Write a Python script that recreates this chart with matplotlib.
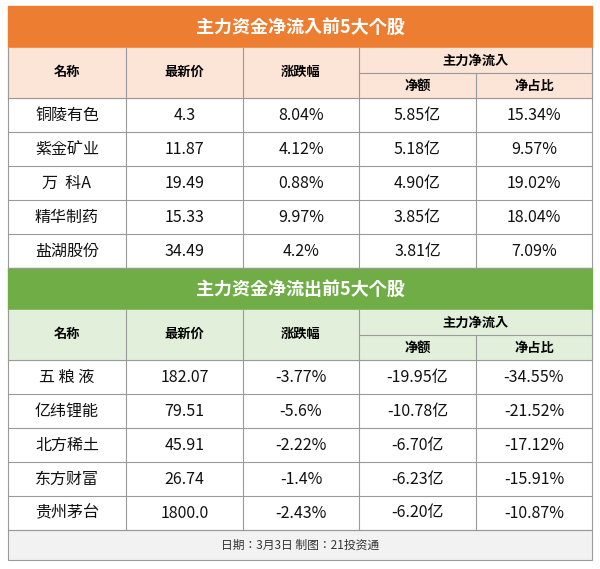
import matplotlib.pyplot as plt
from matplotlib.patches import Rectangle

plt.rcParams["font.family"] = ["Noto Sans CJK SC", "Noto Sans CJK JP",
                               "Noto Sans CJK TC", "Noto Sans CJK KR",
                               "DejaVu Sans"]

# data
in_title = "主力资金净流入前5大个股"
out_title = "主力资金净流出前5大个股"
in_names = ["铜陵有色", "紫金矿业", "万  科A", "精华制药", "盐湖股份"]
in_price = ["4.3", "11.87", "19.49", "15.33", "34.49"]
in_change = ["8.04%", "4.12%", "0.88%", "9.97%", "4.2%"]
in_amount = ["5.85亿", "5.18亿", "4.90亿", "3.85亿", "3.81亿"]
in_ratio = ["15.34%", "9.57%", "19.02%", "18.04%", "7.09%"]
out_names = ["五 粮 液", "亿纬锂能", "北方稀土", "东方财富", "贵州茅台"]
out_price = ["182.07", "79.51", "45.91", "26.74", "1800.0"]
out_change = ["-3.77%", "-5.6%", "-2.22%", "-1.4%", "-2.43%"]
out_amount = ["-19.95亿", "-10.78亿", "-6.70亿", "-6.23亿", "-6.20亿"]
out_ratio = ["-34.55%", "-21.52%", "-17.12%", "-15.91%", "-10.87%"]
footer = "日期：3月3日 制图：21投资通"

fig = plt.figure(figsize=(6, 5.69), dpi=100)
ax = fig.add_axes([0, 0, 1, 1])
ax.set_xlim(0, 600)
ax.set_ylim(569, 0)
ax.axis("off")

X0, X1 = 8, 592
cols = [8, 126, 243, 359, 476, 592]
line_c = "#9a9a9a"


def block(y, title, bar_c, head_c, names, price, change, amount, ratio):
    ax.add_patch(Rectangle((X0, y), X1 - X0, 42, color=bar_c))
    ax.text(300, y + 21, title, color="white", fontsize=13, fontweight="bold",
            ha="center", va="center")
    hy = y + 42
    ax.add_patch(Rectangle((X0, hy), X1 - X0, 50, color=head_c))
    for x in cols:
        top = hy if x not in (cols[4],) else hy + 25
        ax.plot([x, x], [top, hy + 50 + 5 * 34], color=line_c, lw=0.8)
    ax.plot([cols[3], X1], [hy + 25, hy + 25], color=line_c, lw=0.8)
    for i, t in enumerate(["名称", "最新价", "涨跌幅"]):
        ax.text((cols[i] + cols[i + 1]) / 2, hy + 24, t, fontsize=9.5,
                fontweight="bold", ha="center", va="center")
    ax.text((cols[3] + X1) / 2, hy + 13, "主力净流入", fontsize=9.5,
            fontweight="bold", ha="center", va="center")
    ax.text((cols[3] + cols[4]) / 2, hy + 38, "净额", fontsize=9.5,
            fontweight="bold", ha="center", va="center")
    ax.text((cols[4] + cols[5]) / 2, hy + 38, "净占比", fontsize=9.5,
            fontweight="bold", ha="center", va="center")
    ry = hy + 50
    for r in range(5):
        ax.plot([X0, X1], [ry + r * 34, ry + r * 34], color=line_c, lw=0.8)
        vals = [names[r], price[r], change[r], amount[r], ratio[r]]
        for c, v in enumerate(vals):
            ax.text((cols[c] + cols[c + 1]) / 2, ry + r * 34 + 17, v,
                    fontsize=11.5, ha="center", va="center", color="#111111")
    ax.plot([X0, X1], [ry + 170, ry + 170], color=line_c, lw=0.8)
    return ry + 170


end1 = block(6, in_title, "#ED7D31", "#FCE4D6", in_names, in_price,
             in_change, in_amount, in_ratio)
end2 = block(end1, out_title, "#70AD47", "#E2EFDA", out_names, out_price,
             out_change, out_amount, out_ratio)
ax.add_patch(Rectangle((X0, end2), X1 - X0, 30, facecolor="#F2F2F2",
                       edgecolor=line_c, lw=0.8))
ax.text(300, end2 + 15, footer, fontsize=8.5, ha="center", va="center",
        color="#333333")

fig.savefig("out.png", dpi=100)
